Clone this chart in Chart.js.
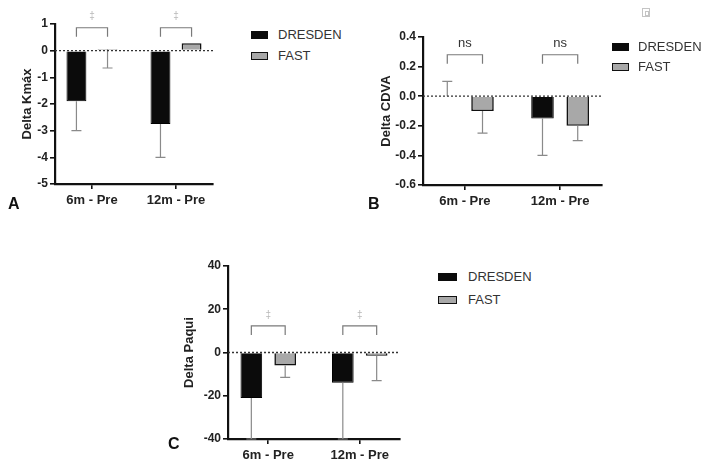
<!DOCTYPE html>
<html>
<head>
<meta charset="utf-8">
<script src="https://cdn.jsdelivr.net/npm/chart.js@4.4.0/dist/chart.umd.min.js"></script>
<style>
  body { margin: 0; background: #fff; width: 708px; height: 470px; position: relative; overflow: hidden;
         font-family: 'Liberation Sans', Arial, sans-serif; }
  canvas { position: absolute; }
  .row { position: absolute; height: 16px; white-space: nowrap; font-size: 13px; color: #333; }
  .row .box { position: absolute; top: 4px; height: 8px; box-sizing: border-box; }
  .row .txt { position: absolute; top: 0; line-height: 16px; }
  .tag { position: absolute; font-weight: bold; font-size: 16px; line-height: 16px; color: #111; }
  .icon { position: absolute; left: 642px; top: 8px; width: 8px; height: 9px; box-sizing: border-box; border: 1px solid #c4c4c4; }
  .icon div { position: absolute; left: 2px; top: 2px; width: 2px; height: 3px; border: 1px solid #c4c4c4; }
</style>
</head>
<body>
<canvas id="chartA" width="240" height="215" style="left:0;top:0"></canvas>
<canvas id="chartB" width="260" height="215" style="left:360px;top:0"></canvas>
<canvas id="chartC" width="260" height="250" style="left:160px;top:220px"></canvas>
<div class="tag" style="left:8px;top:196px">A</div>
<div class="tag" style="left:368px;top:196px">B</div>
<div class="tag" style="left:168px;top:436px">C</div>
<div class="icon"><div></div></div>

<script>
// shared
const categories = ['6m - Pre', '12m - Pre'];
const seriesNames = ['DRESDEN', 'FAST'];

// A - Delta Kmáx
const kmaxDresden = [-1.9, -2.75];
const kmaxFast = [0.05, 0.28];
const kmaxDresdenErr = [-3, -4];
const kmaxFastErr = [-0.65, null];
const kmaxTicks = [1, 0, -1, -2, -3, -4, -5];
const kmaxSig = ['‡', '‡'];

// B - Delta CDVA
const cdvaDresden = [0, -0.15];
const cdvaFast = [-0.1, -0.2];
const cdvaDresdenErr = [0.1, -0.4];
const cdvaFastErr = [-0.25, -0.3];
const cdvaTicks = [0.4, 0.2, 0, -0.2, -0.4, -0.6];
const cdvaSig = ['ns', 'ns'];

// C - Delta Paqui
const paquiDresden = [-21, -14];
const paquiFast = [-6, -1.5];
const paquiDresdenErr = [-40, -40];
const paquiFastErr = [-11.5, -13];
const paquiTicks = [40, 20, 0, -20, -40];
const paquiSig = ['‡', '‡'];

const FONT = "'Liberation Sans', Arial, sans-serif";
const colors = ['#0b0b0b', '#a8a8a8'];

function makeChart(id, cfg) {
  const errs = [cfg.dresdenErr, cfg.fastErr];

  const extras = {
    id: 'extras',
    afterDatasetsDraw(chart) {
      const ctx = chart.ctx;
      const ys = chart.scales.y;
      const area = chart.chartArea;
      const y0 = ys.getPixelForValue(0);

      // error bars
      ctx.save();
      ctx.strokeStyle = '#8a8a8a';
      ctx.lineWidth = 1.2;
      [0, 1].forEach(d => {
        const meta = chart.getDatasetMeta(d);
        meta.data.forEach((bar, j) => {
          const e = errs[d][j];
          if (e === null) return;
          const v = chart.data.datasets[d].data[j].y;
          const ya = ys.getPixelForValue(v);
          const yb = ys.getPixelForValue(e);
          ctx.beginPath();
          ctx.moveTo(bar.x, ya);
          ctx.lineTo(bar.x, yb);
          ctx.moveTo(bar.x - 5, yb);
          ctx.lineTo(bar.x + 5, yb);
          ctx.stroke();
        });
      });

      // dashed zero line
      ctx.strokeStyle = '#333';
      ctx.lineWidth = 1.3;
      ctx.setLineDash([2, 2]);
      ctx.beginPath();
      ctx.moveTo(area.left, y0);
      ctx.lineTo(area.right, y0);
      ctx.stroke();
      ctx.setLineDash([]);

      // significance brackets
      const m0 = chart.getDatasetMeta(0), m1 = chart.getDatasetMeta(1);
      const yb = ys.getPixelForValue(cfg.sigLevel);
      categories.forEach((c, j) => {
        const x1 = m0.data[j].x, x2 = m1.data[j].x;
        ctx.strokeStyle = '#7a7a7a';
        ctx.lineWidth = 1.2;
        ctx.beginPath();
        ctx.moveTo(x1, yb + 9);
        ctx.lineTo(x1, yb);
        ctx.lineTo(x2, yb);
        ctx.lineTo(x2, yb + 9);
        ctx.stroke();
        const s = cfg.sig[j];
        ctx.textAlign = 'center';
        ctx.textBaseline = 'middle';
        if (s === 'ns') {
          ctx.fillStyle = '#333';
          ctx.font = '13px ' + FONT;
        } else {
          ctx.fillStyle = '#b8b8b8';
          ctx.font = '10px ' + FONT;
        }
        ctx.fillText(s, (x1 + x2) / 2, yb - 11);
      });
      ctx.restore();
    }
  };

  return new Chart(document.getElementById(id), {
    type: 'bar',
    data: {
      datasets: [
        { label: seriesNames[0], data: cfg.dresden.map((v, i) => ({ x: i, y: v })),
          backgroundColor: colors[0], borderColor: '#000', borderWidth: 1 },
        { label: seriesNames[1], data: cfg.fast.map((v, i) => ({ x: i, y: v })),
          backgroundColor: colors[1], borderColor: '#111', borderWidth: 1.6 }
      ]
    },
    options: {
      responsive: false,
      animation: false,
      devicePixelRatio: 1,
      categoryPercentage: 0.74,
      barPercentage: 0.64,
      layout: { padding: cfg.padding },
      plugins: { legend: { display: false }, tooltip: { enabled: false } },
      scales: {
        x: {
          type: 'linear', min: -0.44, max: 1.44, offset: false, z: 1,
          afterBuildTicks: s => { s.ticks = categories.map((c, i) => ({ value: i })); },
          afterFit: s => { s.height = cfg.xHeight; },
          ticks: { callback: v => categories[v], autoSkip: false, maxRotation: 0, padding: 4,
                   color: '#222', font: { family: FONT, size: 13, weight: 'bold' } },
          grid: { offset: false, drawOnChartArea: false, tickLength: 5, color: '#111', lineWidth: 1.6 },
          border: { color: '#111', width: 2.2 }
        },
        y: {
          min: cfg.ticks[cfg.ticks.length - 1], max: cfg.ticks[0], z: 1,
          afterBuildTicks: s => { s.ticks = cfg.ticks.map(v => ({ value: v })); },
          afterFit: s => { s.width = cfg.yWidth; },
          ticks: { callback: v => cfg.fmt(v), padding: 2,
                   color: '#222', font: { family: FONT, size: 12, weight: 'bold' } },
          grid: { drawOnChartArea: false, tickLength: 5, color: '#111', lineWidth: 1.6 },
          border: { color: '#111', width: 2.2 },
          title: { display: true, text: cfg.title, color: '#222',
                   padding: { top: cfg.titlePad, bottom: 0 },
                   font: { family: FONT, size: 13, weight: 'bold' } }
        }
      }
    },
    plugins: [extras]
  });
}

function addLegend(boxLeft, textLeft, centers, boxW) {
  seriesNames.forEach((name, i) => {
    const row = document.createElement('div');
    row.className = 'row';
    row.style.left = boxLeft + 'px';
    row.style.top = (centers[i] - 8) + 'px';
    const box = document.createElement('span');
    box.className = 'box';
    box.style.width = boxW + 'px';
    box.style.background = colors[i];
    if (i === 1) box.style.border = '1.6px solid #111';
    const txt = document.createElement('span');
    txt.className = 'txt';
    txt.style.left = (textLeft - boxLeft) + 'px';
    txt.textContent = name;
    row.appendChild(box);
    row.appendChild(txt);
    document.body.appendChild(row);
  });
}

makeChart('chartA', {
  dresden: kmaxDresden, fast: kmaxFast, dresdenErr: kmaxDresdenErr, fastErr: kmaxFastErr,
  ticks: kmaxTicks, fmt: v => String(v), sig: kmaxSig, sigLevel: 0.86,
  title: 'Delta Kmáx', titlePad: 20,
  padding: { left: 0, right: 27, top: 24, bottom: 0 }, yWidth: 55, xHeight: 31
});
makeChart('chartB', {
  dresden: cdvaDresden, fast: cdvaFast, dresdenErr: cdvaDresdenErr, fastErr: cdvaFastErr,
  ticks: cdvaTicks, fmt: v => v.toFixed(1), sig: cdvaSig, sigLevel: 0.28,
  title: 'Delta CDVA', titlePad: 19,
  padding: { left: 0, right: 18, top: 37, bottom: 0 }, yWidth: 63, xHeight: 30
});
makeChart('chartC', {
  dresden: paquiDresden, fast: paquiFast, dresdenErr: paquiDresdenErr, fastErr: paquiFastErr,
  ticks: paquiTicks, fmt: v => String(v), sig: paquiSig, sigLevel: 12.3,
  title: 'Delta Paqui', titlePad: 22,
  padding: { left: 0, right: 20, top: 46, bottom: 0 }, yWidth: 68, xHeight: 31
});

addLegend(251, 278, [34.5, 55.5], 17);
addLegend(612, 638, [47, 67], 17);
addLegend(438, 468, [277, 300], 19);
</script>
</body>
</html>
